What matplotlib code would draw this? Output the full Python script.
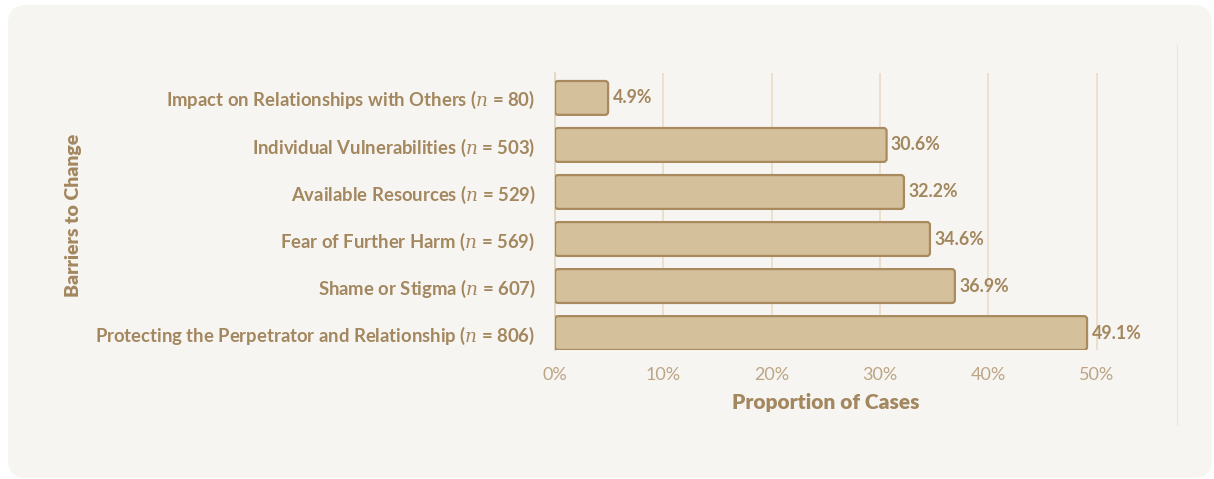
import matplotlib.pyplot as plt
from matplotlib.patches import FancyBboxPatch
from matplotlib.lines import Line2D

plt.rcParams['font.family'] = ['Lato', 'DejaVu Sans']
plt.rcParams['mathtext.fontset'] = 'dejavuserif'

# Barriers to change, top to bottom
barriers = [
    'Impact on Relationships with Others',
    'Individual Vulnerabilities',
    'Available Resources',
    'Fear of Further Harm',
    'Shame or Stigma',
    'Protecting the Perpetrator and Relationship',
]
counts = [80, 503, 529, 569, 607, 806]
shares = [4.9, 30.6, 32.2, 34.6, 36.9, 49.1]
ticks = [0, 10, 20, 30, 40, 50]

txt = '#a3875f'
tick_col = '#bca585'
bar_fill = '#d4c19c'
bar_edge = '#a88a5e'
card = '#f7f5f1'
grid_col = '#e8dcc6'

fig = plt.figure(figsize=(12.14, 4.79), dpi=100)
fig.patch.set_facecolor('white')

# background card
W, H = 1214, 479
fig.patches.append(FancyBboxPatch((8 / W, 1 / H), 1204 / W, 473 / H,
                                  boxstyle='round,pad=0,rounding_size=0.015',
                                  transform=fig.transFigure, facecolor=card,
                                  edgecolor='none', mutation_aspect=W / H,
                                  zorder=-2))
fig.lines.append(Line2D([1177 / W, 1177 / W], [1 - 45 / H, 1 - 425 / H],
                        transform=fig.transFigure, color='#ece5d8', lw=0.8,
                        zorder=-1))

left, right = 555 / W, 1177 / W
top, bottom = 1 - 73 / H, 1 - 350 / H
xmax = 57.4
ax = fig.add_axes([left, bottom, right - left, top - bottom])
ax.set_facecolor('none')

y = list(range(len(barriers)))
bars = ax.barh(y, shares, height=0.72, color=bar_fill, edgecolor=bar_edge)
ax.set_xlim(0, xmax)
ax.set_ylim(5 + 0.36, -0.53)

# swap plain rectangles for rounded ones
px_x = (right - left) * W / xmax
px_y = (top - bottom) * H / 5.89
r = 3 / px_x
for b in bars:
    b.set_visible(False)
    x0, y0 = b.get_x(), b.get_y()
    p = FancyBboxPatch((x0, y0), b.get_width(), b.get_height(),
                       boxstyle=f'round,pad=0,rounding_size={r}',
                       mutation_aspect=(3 / px_y) / r,
                       facecolor=bar_fill, edgecolor=bar_edge, lw=1.6, zorder=3)
    ax.add_patch(p)

for yi, v in zip(y, shares):
    ax.text(v + 0.4, yi, f'{v}%', va='center', ha='left', color=txt,
            fontsize=12.8, fontweight='bold', zorder=4)

ax.set_xticks(ticks)
ax.set_xticklabels([f'{t}%' for t in ticks], color=tick_col, fontsize=13)
ax.set_yticks(y)
ax.set_yticklabels([f'{b} ($n$ = {c})' for b, c in zip(barriers, counts)],
                   color=txt, fontsize=13.3, fontweight='bold')
ax.tick_params(axis='x', length=0, pad=12)
ax.tick_params(axis='y', length=0, pad=14)
for x in ticks[1:]:
    ax.axvline(x, color=grid_col, lw=1.2, zorder=0)
for s in ['top', 'right', 'bottom']:
    ax.spines[s].set_visible(False)
ax.spines['left'].set_color('#e0d3bb')
ax.spines['left'].set_linewidth(1.2)

ax.set_xlabel('Proportion of Cases', color=txt, fontsize=15,
              fontweight='heavy')
ax.xaxis.set_label_coords(25 / xmax, -0.155)
fig.text(73 / W, 1 - 215 / H, 'Barriers to Change', rotation=90,
         ha='center', va='center', color=txt, fontsize=14, fontweight='heavy')

fig.savefig('out.png', dpi=100, facecolor='white')
